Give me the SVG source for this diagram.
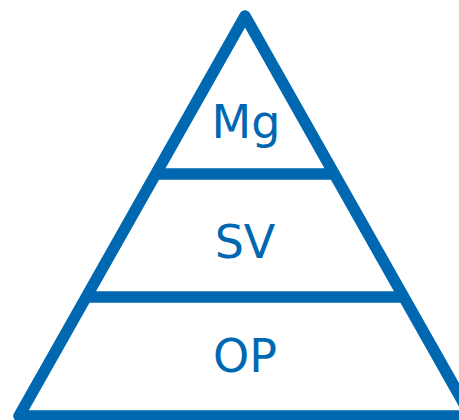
<svg xmlns="http://www.w3.org/2000/svg" width="459" height="420" viewBox="0 0 459 420">
<style>
.ln{stroke:#0068b0;stroke-width:11.5;fill:none;stroke-linejoin:round;stroke-linecap:round}
.lbl{font-family:"DejaVu Sans",Verdana,sans-serif;font-size:46px;fill:#0068b0;text-anchor:middle}
</style>
<rect width="459" height="420" fill="#ffffff"/>
<g id="connectors">
<polygon class="ln" points="245,16 19,416 471,416"/>
<line class="ln" x1="156" y1="174" x2="334" y2="174" style="stroke-linecap:butt"/>
<line class="ln" x1="86" y1="297" x2="404" y2="297" style="stroke-linecap:butt"/>
</g>
<g id="mg"><text class="lbl" x="246" y="138">Mg</text></g>
<g id="sv"><text class="lbl" x="245" y="258">SV</text></g>
<g id="op"><text class="lbl" x="245" y="372">OP</text></g>
</svg>
